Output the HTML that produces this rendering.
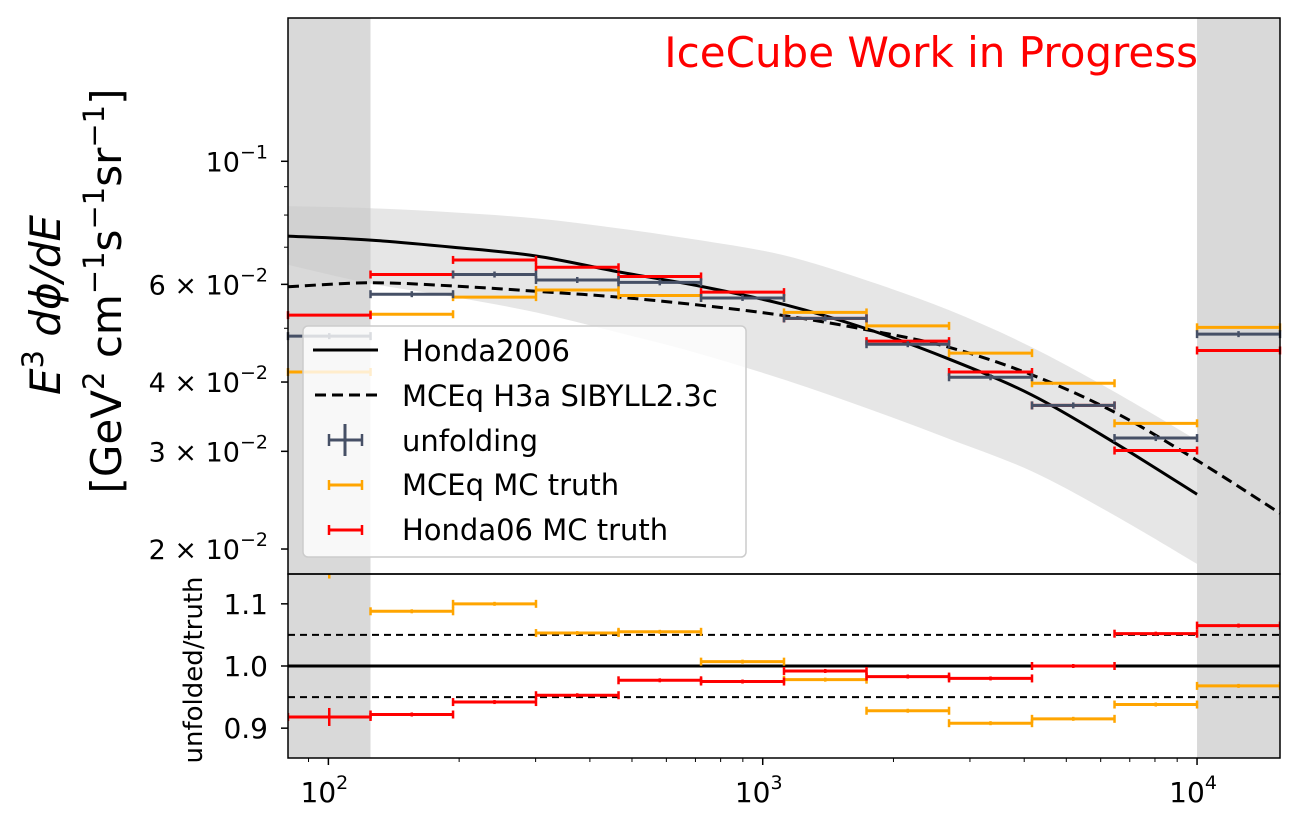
<!DOCTYPE html>
<html><head><meta charset="utf-8"><style>
body{margin:0;background:#fff}
svg text{font-family:"DejaVu Sans","Liberation Sans",sans-serif}
</style></head><body>
<svg id="chart" width="1300" height="830" xmlns="http://www.w3.org/2000/svg" style="position:absolute;left:0;top:0">
<defs><clipPath id="ratioclip"><rect x="288" y="574" width="992" height="184"/></clipPath></defs>
<g id="layer"></g>
</svg>
<script>
// ---- data ----
const binEdgesLog = [1.907,2.097,2.287,2.478,2.668,2.858,3.049,3.239,3.429,3.620,3.810,4.000,4.191];
const unfolding = [0.0484,0.0576,0.0625,0.0611,0.0605,0.0567,0.0521,0.0468,0.0408,0.0363,0.0317,0.0488];
const mceqTruth = [0.0417,0.0530,0.0569,0.0586,0.0573,0.0567,0.0534,0.0505,0.0451,0.0398,0.0337,0.0502];
const hondaTruth = [0.0528,0.0625,0.0664,0.0644,0.0620,0.0581,0.0521,0.0474,0.0417,0.0363,0.0301,0.0456];
const ratioMceq = [1.160,1.088,1.100,1.053,1.055,1.007,0.978,0.928,0.908,0.915,0.938,0.968];
const ratioHonda = [0.918,0.922,0.942,0.953,0.977,0.975,0.992,0.983,0.980,1.000,1.052,1.065];
const curveLogE = [1.907,2.097,2.287,2.478,2.668,2.858,3.049,3.239,3.429,3.620,3.810,4.000,4.191];
const honda2006 = [0.0733,0.0721,0.0700,0.0675,0.0632,0.0595,0.0552,0.0499,0.0440,0.0379,0.0311,0.0251];
const mceqH3a = [0.0594,0.0604,0.0596,0.0583,0.0569,0.0550,0.0527,0.0497,0.0462,0.0412,0.0353,0.0289,0.0232];
const bandUpper = [0.0830,0.0823,0.0809,0.0789,0.0757,0.0720,0.0677,0.0610,0.0539,0.0462,0.0384,0.0314];
const bandLower = [0.0651,0.0602,0.0570,0.0534,0.0491,0.0449,0.0404,0.0359,0.0316,0.0276,0.0230,0.0188];
const yTicks = [0.1,0.06,0.04,0.03,0.02];
const yTickLabels = [["10","−1"],["6 × 10","−2"],["4 × 10","−2"],["3 × 10","−2"],["2 × 10","−2"]];
const ratioTicks = [1.1,1.0,0.9];
const xTicks = [2,3,4];

// ---- axes ----
const X0=288,X1=1280,T0=18,T1=574,B1=758;
const lx0=1.907,lx1=4.191;
const X = l => X0+(l-lx0)/(lx1-lx0)*(X1-X0);
const ly0=Math.log10(0.18127), ly1=Math.log10(0.01803);
const Y = v => T0+(ly0-Math.log10(v))/(ly0-ly1)*(T1-T0);
const R = r => T1+(1.148-r)/(1.148-0.852)*(B1-T1);

const NS="http://www.w3.org/2000/svg";
const layer=document.getElementById('layer');
function mk(tag,attrs,parent){const e=document.createElementNS(NS,tag);for(const k in attrs)e.setAttribute(k,attrs[k]);(parent||layer).appendChild(e);return e;}
// smooth path through points (Catmull-Rom)
function smooth(pts,start){let d=(start||'M')+pts[0][0]+','+pts[0][1];
 for(let i=0;i<pts.length-1;i++){const p0=pts[Math.max(i-1,0)],p1=pts[i],p2=pts[i+1],p3=pts[Math.min(i+2,pts.length-1)];
  const c1=[p1[0]+(p2[0]-p0[0])/6,p1[1]+(p2[1]-p0[1])/6],c2=[p2[0]-(p3[0]-p1[0])/6,p2[1]-(p3[1]-p1[1])/6];
  d+='C'+c1[0]+','+c1[1]+' '+c2[0]+','+c2[1]+' '+p2[0]+','+p2[1];}
 return d;}

let e;
e=mk('rect',{x:X0,y:T0,width:X(binEdgesLog[1])-X0,height:B1-T0,fill:'#d9d9d9'});


e=mk('rect',{x:X(4),y:T0,width:X1-X(4),height:B1-T0,fill:'#d9d9d9'});



const up=bandUpper.map((v,i)=>[X(curveLogE[i]),Y(v)]);
const lo=bandLower.map((v,i)=>[X(curveLogE[i]),Y(v)]).reverse();
e=mk('path',{d:smooth(up)+smooth(lo,'L')+'Z',fill:'#c8c8c8','fill-opacity':0.45});



function curve(vals,dash,name){const pts=vals.map((v,i)=>[X(curveLogE[i]),Y(v)]);
 const p=mk('path',{d:smooth(pts),fill:'none',stroke:'#000','stroke-width':3,'stroke-dasharray':dash||'none'});
 
 }
curve(honda2006,null,'honda2006-curve');
curve(mceqH3a,'11,6','mceq-h3a-curve');

function series(vals,map,color,name,verr,parent){
 vals.forEach((v,i)=>{const g=mk('g',{},parent);
  
  
  const xa=X(binEdgesLog[i]),xb=X(binEdgesLog[i+1]),y=map(v);
  mk('line',{x1:xa,x2:xb,y1:y,y2:y,stroke:color,'stroke-width':3},g);
  mk('line',{x1:xa,x2:xa,y1:y-4,y2:y+4,stroke:color,'stroke-width':2.5},g);
  mk('line',{x1:xb,x2:xb,y1:y-4,y2:y+4,stroke:color,'stroke-width':2.5},g);
  if(verr){const xm=(xa+xb)/2;mk('line',{x1:xm,x2:xm,y1:y-verr,y2:y+verr,stroke:color,'stroke-width':2.5},g);}
 });}
series(mceqTruth,Y,'#ffa500','mceq-truth');
series(hondaTruth,Y,'#ff0000','honda-truth');
series(unfolding,Y,'#465066','unfolding',3);

const rg=mk('g',{'clip-path':'url(#ratioclip)'});
[[1.05,'7,5'],[0.95,'7,5'],[1.0,null]].forEach((r,i)=>{const l=mk('line',{x1:X0,x2:X1,y1:R(r[0]),y2:R(r[0]),stroke:'#000','stroke-width':r[1]?2:3,'stroke-dasharray':r[1]||'none'},rg);
 
 });
series(ratioMceq,R,'#ffa500','ratio-mceq',2,rg);
series(ratioHonda,R,'#ff0000','ratio-honda',2,rg);
const xm0=(X(binEdgesLog[0])+X(binEdgesLog[1]))/2;
mk('line',{x1:xm0,x2:xm0,y1:R(0.918)-9,y2:R(0.918)+9,stroke:'#f00','stroke-width':2.5},rg);
mk('line',{x1:xm0,x2:xm0,y1:R(ratioMceq[0])-9,y2:R(ratioMceq[0])+12,stroke:'#ffa500','stroke-width':2.5},rg);

e=mk('rect',{x:X0,y:T0,width:X1-X0,height:T1-T0,fill:'none',stroke:'#000','stroke-width':1.5});


e=mk('rect',{x:X0,y:T1,width:X1-X0,height:B1-T1,fill:'none',stroke:'#000','stroke-width':1.5});



yTicks.forEach((v,i)=>{const y=Y(v);mk('line',{x1:X0-7,x2:X0,y1:y,y2:y,stroke:'#000','stroke-width':1.5});
 const t=mk('text',{x:X0-20,y:y+10,'font-size':27,'text-anchor':'end'});
 
 
 t.innerHTML=yTickLabels[i][0]+'<tspan dy="-13" font-size="19">'+yTickLabels[i][1]+'</tspan>';});
[0.05,0.07,0.08,0.09,0.02,0.03,0.04,0.06].forEach(v=>{const y=Y(v);mk('line',{x1:X0-4,x2:X0,y1:y,y2:y,stroke:'#000','stroke-width':1});});
ratioTicks.forEach(r=>{const y=R(r);mk('line',{x1:X0-7,x2:X0,y1:y,y2:y,stroke:'#000','stroke-width':1.5});
 const t=mk('text',{x:X0-20,y:y+10,'font-size':28,'text-anchor':'end'});
 
 
 t.textContent=r.toFixed(1);});
xTicks.forEach(d=>{const x=X(d);mk('line',{x1:x,x2:x,y1:B1,y2:B1+7,stroke:'#000','stroke-width':1.5});
 const t=mk('text',{x:x-4,y:802,'font-size':28,'text-anchor':'middle'});
 
 
 t.innerHTML='10<tspan dy="-13" font-size="19">'+d+'</tspan>';});
for(let d=1;d<=4;d++)for(let m=2;m<=9;m++){const l=d+Math.log10(m);if(l>lx0&&l<lx1){const x=X(l);mk('line',{x1:x,x2:x,y1:B1,y2:B1+4,stroke:'#000','stroke-width':1});}}
</script>
<svg style="position:absolute;left:0;top:0" width="1300" height="830" xmlns="http://www.w3.org/2000/svg">
<text x="1198" y="67" font-size="42" fill="#ff0000" text-anchor="end" font-family="DejaVu Sans, Liberation Sans, sans-serif">IceCube Work in Progress</text>
<g font-family="DejaVu Sans, Liberation Sans, sans-serif">
<text transform="translate(60,305) rotate(-90)" font-size="42" text-anchor="middle"><tspan font-style="italic">E</tspan><tspan dy="-17" font-size="29">3</tspan><tspan dy="17"> </tspan><tspan font-style="italic">dϕ/dE</tspan></text>
<text transform="translate(121,291) rotate(-90)" font-size="42" text-anchor="middle">[GeV<tspan dy="-17" font-size="29">2</tspan><tspan dy="17"> cm</tspan><tspan dy="-17" font-size="29">−1</tspan><tspan dy="17">s</tspan><tspan dy="-17" font-size="29">−1</tspan><tspan dy="17">sr</tspan><tspan dy="-17" font-size="29">−1</tspan><tspan dy="17">]</tspan></text>
</g>
<text transform="translate(202,670) rotate(-90)" font-size="26" text-anchor="middle" font-family="DejaVu Sans, Liberation Sans, sans-serif">unfolded/truth</text>
<g font-family="DejaVu Sans, Liberation Sans, sans-serif" font-size="29">
<rect x="303" y="326" width="443" height="231" rx="5" fill="#fff" fill-opacity="0.8" stroke="#ccc" stroke-width="1.5"/>
<g><line x1="313" x2="378" y1="350" y2="350" stroke="#000" stroke-width="3"/><text x="402" y="361">Honda2006</text></g>
<g><line x1="315" x2="378" y1="395" y2="395" stroke="#000" stroke-width="3" stroke-dasharray="11,6"/><text x="402" y="406">MCEq H3a SIBYLL2.3c</text></g>
<g><line x1="329" x2="362" y1="440" y2="440" stroke="#465066" stroke-width="3"/><line x1="345" x2="345" y1="424" y2="456" stroke="#465066" stroke-width="3"/><line x1="329" x2="329" y1="434" y2="446" stroke="#465066" stroke-width="2.5"/><line x1="362" x2="362" y1="434" y2="446" stroke="#465066" stroke-width="2.5"/><text x="402" y="451">unfolding</text></g>
<g><line x1="329" x2="362" y1="485" y2="485" stroke="#ffa500" stroke-width="3"/><line x1="329" x2="329" y1="480" y2="490" stroke="#ffa500" stroke-width="2.5"/><line x1="362" x2="362" y1="480" y2="490" stroke="#ffa500" stroke-width="2.5"/><text x="402" y="495">MCEq MC truth</text></g>
<g><line x1="329" x2="362" y1="530" y2="530" stroke="#ff0000" stroke-width="3"/><line x1="329" x2="329" y1="525" y2="535" stroke="#ff0000" stroke-width="2.5"/><line x1="362" x2="362" y1="525" y2="535" stroke="#ff0000" stroke-width="2.5"/><text x="402" y="540">Honda06 MC truth</text></g>
</g>
</svg>
</body></html>
